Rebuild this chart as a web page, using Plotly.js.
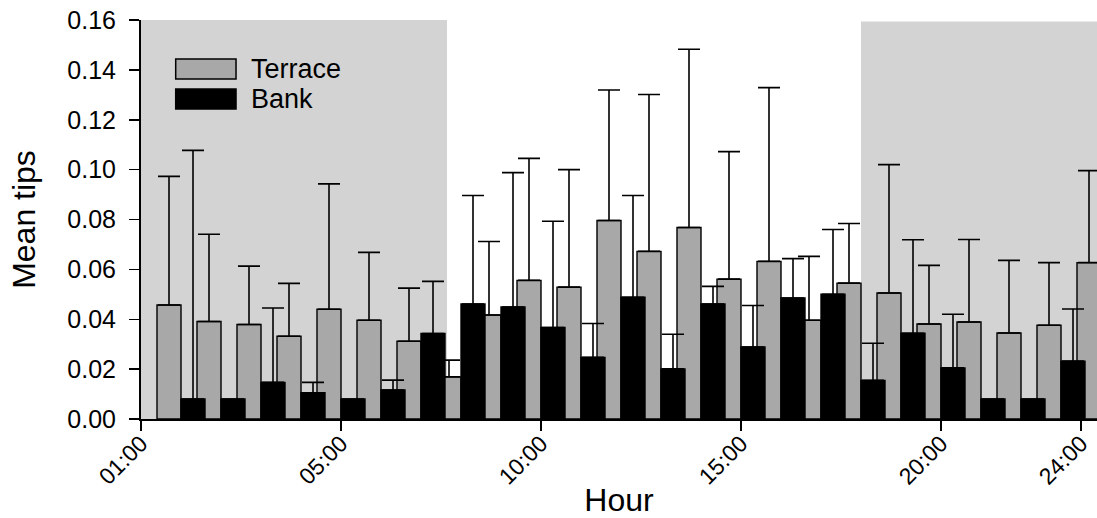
<!DOCTYPE html>
<html>
<head>
<meta charset="utf-8">
<script src="https://cdn.plot.ly/plotly-3.0.1.min.js"></script>
<style>
  html, body { margin: 0; padding: 0; overflow: hidden; background: #fff; }
  #chart { width: 1097px; height: 518px; }
</style>
</head>
<body>
<div id="chart"></div>
<script>
// ---- data ----
const hours = [1,2,3,4,5,6,7,8,9,10,11,12,13,14,15,16,17,18,19,20,21,22,23,24];

const terrace = [0.0457,0.0391,0.0379,0.0332,0.0440,0.0396,0.0312,0.0169,0.0417,0.0556,0.0529,0.0796,
                 0.0672,0.0768,0.0561,0.0632,0.0396,0.0545,0.0505,0.0381,0.0389,0.0345,0.0376,0.0627];
const terraceErr = [0.0516,0.0350,0.0234,0.0212,0.0503,0.0272,0.0213,0.0067,0.0295,0.0489,0.0471,0.0523,
                    0.0629,0.0715,0.0511,0.0697,0.0256,0.0239,0.0515,0.0235,0.0331,0.0291,0.0251,0.0369];

const bank = [0.0080,0.0080,0.0147,0.0105,0.0080,0.0116,0.0343,0.0461,0.0449,0.0367,0.0247,0.0488,
              0.0201,0.0461,0.0289,0.0485,0.0500,0.0155,0.0344,0.0205,0.0080,0.0080,0.0232,null];
const bankErr = [0.0997,0,0.0298,0.0042,0,0.0040,0.0209,0.0435,0.0539,0.0426,0.0136,0.0408,
                 0.0139,0.0071,0.0166,0.0158,0.0260,0.0149,0.0375,0.0215,0,0,0.0209,null];

const tickVals = [0, 5, 10, 15, 20, 23.5];
const tickText = ['01:00', '05:00', '10:00', '15:00', '20:00', '24:00'];
const yTicks = [0, 0.02, 0.04, 0.06, 0.08, 0.10, 0.12, 0.14, 0.16];

// night shading (axis units)
const nightSpans = [[0, 7.65, 0.16], [18.0, 24, 0.1594]];

// ---- chart ----
const FONT = 'Liberation Sans, Arial, Helvetica, sans-serif';
const zeros = hours.map(() => 0);

const traces = [
  {
    type: 'bar', name: 'Terrace', x: hours, y: terrace,
    width: 0.6, offset: -0.6,
    marker: { color: '#a8a8a8', line: { color: '#000', width: 1.4 } },
    error_y: { type: 'data', symmetric: false, array: terraceErr, arrayminus: zeros,
               color: '#000', thickness: 1.6, width: 11 },
    showlegend: false
  },
  {
    type: 'bar', name: 'Bank', x: hours, y: bank,
    width: 0.6, offset: 0,
    marker: { color: '#000000', line: { color: '#000', width: 1.4 } },
    error_y: { type: 'data', symmetric: false, array: bankErr, arrayminus: zeros,
               color: '#000', thickness: 1.6, width: 11 },
    showlegend: false
  }
];

const shapes = nightSpans.map(s => ({
  type: 'rect', xref: 'x', yref: 'y', x0: s[0], x1: s[1], y0: 0, y1: s[2],
  fillcolor: '#d3d3d3', line: { width: 0 }, layer: 'below'
}));

// legend swatches (paper coords)
shapes.push({ type: 'rect', xref: 'paper', yref: 'paper', x0: 0.0363, x1: 0.0994, y0: 0.852, y1: 0.902,
  fillcolor: '#a8a8a8', line: { color: '#000', width: 1.5 } });
shapes.push({ type: 'rect', xref: 'paper', yref: 'paper', x0: 0.0363, x1: 0.0994, y0: 0.777, y1: 0.827,
  fillcolor: '#000', line: { color: '#000', width: 1.5 } });

const annotations = [
  { xref: 'paper', yref: 'paper', x: 0.113, y: 0.877, xanchor: 'left', yanchor: 'middle',
    text: 'Terrace', showarrow: false, font: { family: FONT, size: 27, color: '#000' } },
  { xref: 'paper', yref: 'paper', x: 0.113, y: 0.802, xanchor: 'left', yanchor: 'middle',
    text: 'Bank', showarrow: false, font: { family: FONT, size: 27, color: '#000' } }
];

const layout = {
  width: 1097, height: 518,
  margin: { l: 141, r: 0, t: 20, b: 99, pad: 0 },
  paper_bgcolor: '#fff', plot_bgcolor: '#fff',
  barmode: 'overlay',
  font: { family: FONT, color: '#000' },
  xaxis: {
    range: [0, 23.9], showgrid: false, zeroline: false,
    showline: true, linecolor: '#000', linewidth: 2,
    ticks: 'outside', ticklen: 10, tickwidth: 1.5, tickcolor: '#000',
    tickmode: 'array', tickvals: tickVals, ticktext: tickText,
    tickangle: -45, tickfont: { family: FONT, size: 23 }, ticklabelstandoff: -10,
    title: { text: 'Hour', font: { family: FONT, size: 32 }, standoff: 8 }
  },
  yaxis: {
    range: [0, 0.16], showgrid: false, zeroline: false,
    showline: true, linecolor: '#000', linewidth: 2,
    ticks: 'outside', ticklen: 10, tickwidth: 1.5, tickcolor: '#000',
    tickmode: 'array', tickvals: yTicks, tickformat: '.2f',
    tickfont: { family: FONT, size: 25 }, ticklabelstandoff: 8,
    title: { text: 'Mean tips', font: { family: FONT, size: 32 }, standoff: 22 }
  },
  shapes: shapes,
  annotations: annotations,
  showlegend: false
};

Plotly.newPlot('chart', traces, layout, { staticPlot: true, displayModeBar: false });
</script>
</body>
</html>
